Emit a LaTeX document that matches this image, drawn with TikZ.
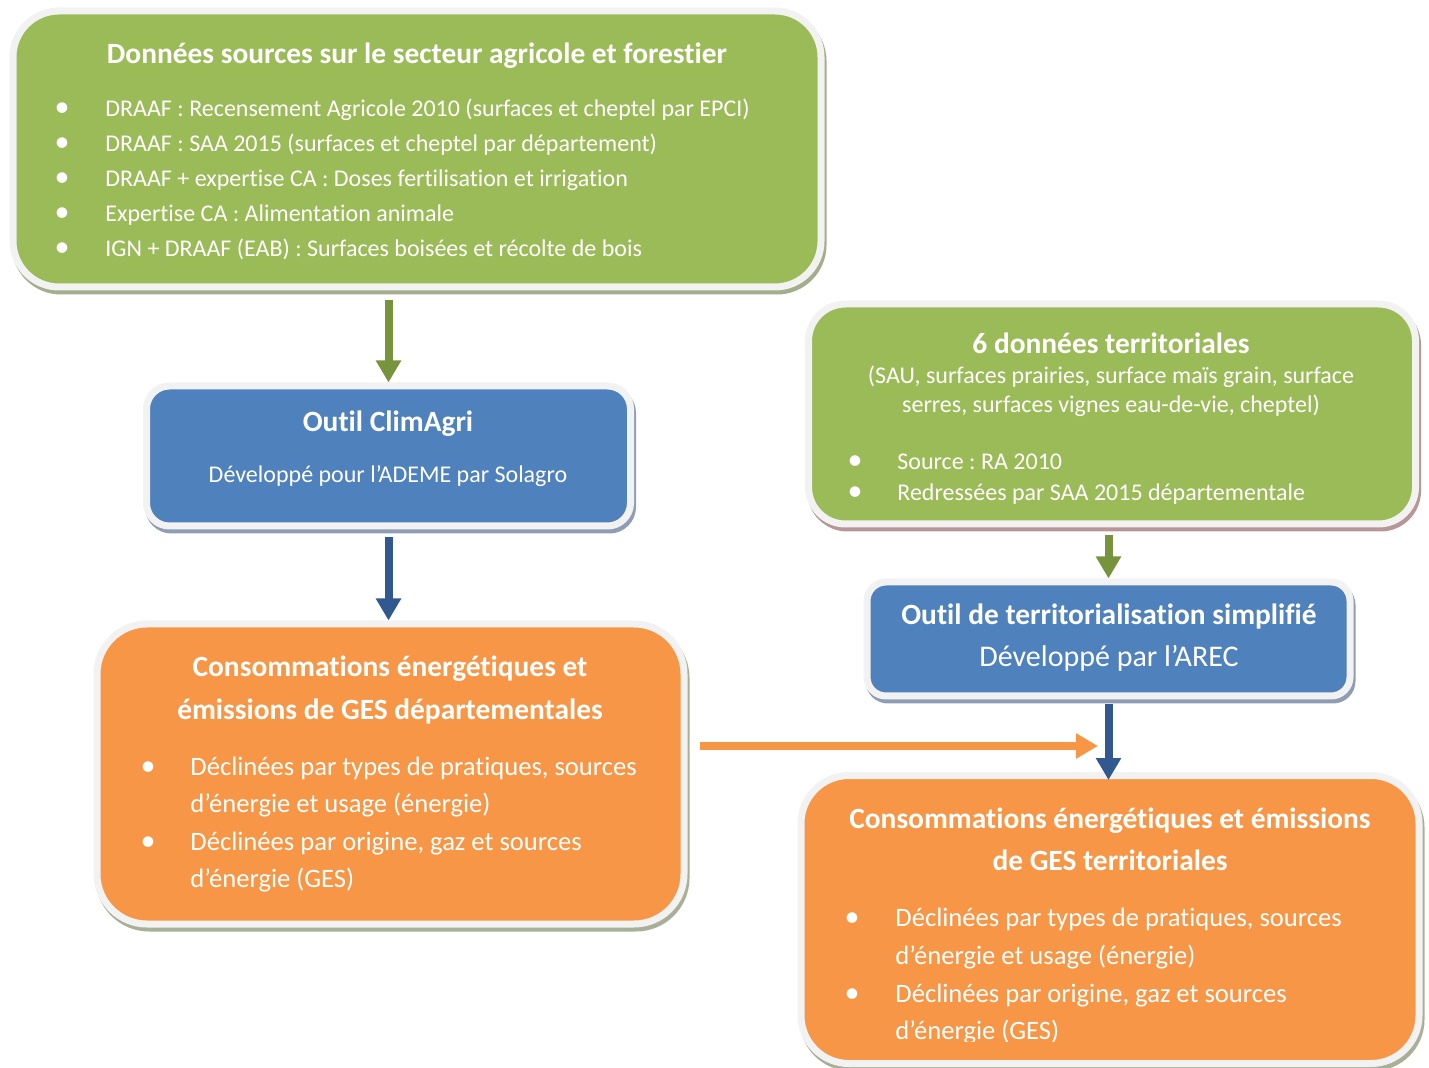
\documentclass[tikz,border=0pt]{standalone}
\usepackage{fontspec}
\setmainfont{Carlito}[Ligatures={NoCommon}]
\frenchspacing
\usepackage{xcolor}
\usetikzlibrary{arrows.meta,positioning,calc}

\definecolor{agrigreen}{HTML}{9BBB59}
\definecolor{toolblue}{HTML}{4F81BD}
\definecolor{resultorange}{HTML}{F79646}
\definecolor{boxrim}{HTML}{F2F2F2}
\definecolor{greenshade}{HTML}{A4AD8C}
\definecolor{roseshade}{HTML}{B89596}
\definecolor{blueshade}{HTML}{8F9DB4}
\definecolor{orangeshade}{HTML}{A9B097}
\definecolor{greenarrow}{HTML}{77933C}
\definecolor{bluearrow}{HTML}{31598F}

\tikzset{
  box/.style 2 args={rounded corners=#1, draw=boxrim, line width=3.5pt, inner sep=0pt,
    preaction={draw=#2, line width=3.5pt, transform canvas={shift={(1pt,-2pt)}}}},
  boxtitle/.style={font=\fontsize{14.7}{17}\selectfont\bfseries, text=white, inner sep=0pt, anchor=base},
  boxline/.style={font=\fontsize{12}{14}\selectfont, text=white, inner sep=0pt, anchor=base},
  item/.style={font=\fontsize{12}{14}\selectfont, text=white, inner sep=0pt, anchor=base west},
  bigitem/.style={font=\fontsize{13.3}{16}\selectfont, text=white, inner sep=0pt, anchor=base west},
  dot/.style={font=\fontsize{15}{16}\selectfont, text=white, inner sep=0pt, anchor=base},
  flow/.style={line width=4pt, -{Triangle[length=11pt,width=12pt]}},
}

\begin{document}
\begin{tikzpicture}[x=0.5pt, y=-0.5pt]
\useasboundingbox (0,0) rectangle (1429,1068);

% Boxes
\node[box={23pt}{greenshade}, fill=agrigreen, minimum width=404pt, minimum height=138pt] (sources) at (417,149) {};
\node[box={18.5pt}{roseshade}, fill=agrigreen, minimum width=303.5pt, minimum height=110pt] (terr) at (1112,414) {};
\node[box={11.5pt}{blueshade}, fill=toolblue, minimum width=242pt, minimum height=70pt] (climagri) at (388.5,456) {};
\node[box={9.5pt}{blueshade}, fill=toolblue, minimum width=241.5pt, minimum height=57pt] (arec) at (1108.5,639) {};
\node[box={25pt}{orangeshade}, fill=resultorange, minimum width=293.5pt, minimum height=150pt] (dept) at (390.5,774) {};
\node[box={24pt}{orangeshade}, fill=resultorange, minimum width=309pt, minimum height=144pt] (local) at (1110,919.5) {};

% Data sources
\node[boxtitle] (sourcestitle) at (417,64) {Données sources sur le secteur agricole et forestier};
\node[dot] (srcdota) at (62,117) {•};
\node[item] (srca) at (105,117) {DRAAF : Recensement Agricole 2010 (surfaces et cheptel par EPCI)};
\node[dot] (srcdotb) at (62,152) {•};
\node[item] (srcb) at (105,152) {DRAAF : SAA 2015 (surfaces et cheptel par département)};
\node[dot] (srcdotc) at (62,187) {•};
\node[item] (srcc) at (105,187) {DRAAF + expertise CA : Doses fertilisation et irrigation};
\node[dot] (srcdotd) at (62,222) {•};
\node[item] (srcd) at (105,222) {Expertise CA : Alimentation animale};
\node[dot] (srcdote) at (62,257) {•};
\node[item] (srce) at (105,257) {IGN + DRAAF (EAB) : Surfaces boisées et récolte de bois};

% Territorial data
\node[boxtitle] (terrtitle) at (1111,354) {6 données territoriales};
\node[boxline] (terra) at (1111,384) {(SAU, surfaces prairies, surface maïs grain, surface};
\node[boxline] (terrb) at (1111,413) {serres, surfaces vignes eau-de-vie, cheptel)};
\node[dot] (terrdotc) at (855,470) {•};
\node[item] (terrc) at (897,470) {Source : RA 2010};
\begin{scope}
\clip (840,480) rectangle (1400,504);
\node[dot] (terrdotd) at (855,501) {•};
\node[item] (terrd) at (897,501) {Redressées par SAA 2015 départementale};
\end{scope}

% Tools
\node[boxtitle] (climagrititle) at (388,432) {Outil ClimAgri};
\node[boxline] (climagrisub) at (388,483) {Développé pour l’ADEME par Solagro};
\node[boxtitle] (arectitle) at (1109,625) {Outil de territorialisation simplifié};
\node[boxline, font=\fontsize{15}{17}\selectfont] (arecsub) at (1109,667) {Développé par l’AREC};

% Departmental results
\node[boxtitle] (depttitlea) at (390,677) {Consommations énergétiques et};
\node[boxtitle] (depttitleb) at (390,719) {émissions de GES départementales};
\node[dot] (deptdota) at (148,775) {•};
\node[bigitem] (depta) at (190,775) {Déclinées par types de pratiques, sources};
\node[bigitem] (deptb) at (190,812) {d’énergie et usage (énergie)};
\node[dot] (deptdotc) at (148,850) {•};
\node[bigitem] (deptc) at (190,850) {Déclinées par origine, gaz et sources};
\node[bigitem] (deptd) at (190,887) {d’énergie (GES)};

% Territorial results
\node[boxtitle] (localtitlea) at (1110,828) {Consommations énergétiques et émissions};
\node[boxtitle] (localtitleb) at (1110,870) {de GES territoriales};
\node[dot] (localdota) at (852,926) {•};
\node[bigitem] (locala) at (895,926) {Déclinées par types de pratiques, sources};
\node[bigitem] (localb) at (895,964) {d’énergie et usage (énergie)};
\node[dot] (localdotc) at (852,1002) {•};
\node[bigitem] (localc) at (895,1002) {Déclinées par origine, gaz et sources};
\begin{scope}
\clip (880,1010) rectangle (1400,1041);
\node[bigitem] (locald) at (895,1039) {d’énergie (GES)};
\end{scope}

% Arrows
\draw[flow, greenarrow, shorten <=4.75pt] (climagri.north |- sources.south) -- (climagri.north);
\draw[flow, bluearrow, shorten <=3.75pt] (climagri.south) -- (climagri.south |- dept.north);
\draw[flow, greenarrow, shorten <=3.75pt] (arec.north |- terr.south) -- (arec.north);
\draw[flow, bluearrow, shorten <=2.25pt, shorten >=-4pt] (arec.south) -- (arec.south |- local.north);
\coordinate (merge) at (1098,746);
\draw[flow, resultorange, shorten <=6pt] (dept.east |- merge) -- (merge);
\end{tikzpicture}
\end{document}
